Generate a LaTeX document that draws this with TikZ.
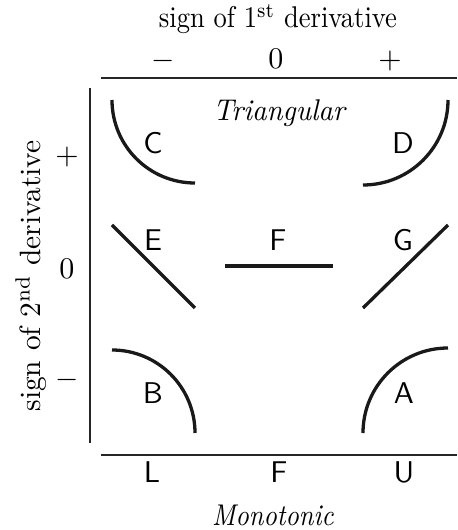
\documentclass[tikz,border=0pt]{standalone}
\usepackage{graphicx}
\begin{document}
\begin{tikzpicture}[x=0.3333pt,y=0.3333pt,
  curve/.style={line width=1.1pt, black!90},
  axisline/.style={line width=0.45pt, black!85},
  lab/.style={font=\sffamily, inner sep=0pt},
  sgn/.style={inner sep=0pt, anchor=base},
  ttl/.style={inner sep=0pt, anchor=base}]
\useasboundingbox (0,0) rectangle (457,530);
% titles
\node[ttl] (t1) at (278,502) {\scalebox{0.885}[1]{sign of 1\textsuperscript{st} derivative}};
\node[sgn] (sm) at (163,462) {$-$};
\node[sgn] (s0) at (276,462) {$0$};
\node[sgn] (sp) at (390,462) {$+$};
\node[inner sep=0pt, rotate=90, font=\fontsize{9.8}{11}\selectfont] (t2) at (31,254) {sign of 2\textsuperscript{nd} derivative};
\node[inner sep=0pt] (lp) at (67,373) {$+$};
\node[inner sep=0pt] (l0) at (67,261) {$0$};
\node[inner sep=0pt] (lm) at (67,150) {$-$};
% axes
\coordinate (tl) at (101,452); \coordinate (tr) at (457,452);
\coordinate (bl) at (101,75);  \coordinate (br) at (457,75);
\coordinate (vt) at (90,442);  \coordinate (vb) at (90,87);
\draw[axisline] (tl) -- (tr);
\draw[axisline] (bl) -- (br);
\draw[axisline] (vt) -- (vb);
% italic labels
\node[inner sep=0pt] (tri) at (280,417) {\scalebox{0.95}[1]{\textit{Triangular}}};
\node[ttl] (mono) at (273,5) {\scalebox{0.87}[1]{\textit{Monotonic}}};
% bottom labels
\node[ttl,font=\sffamily] (bL) at (152,47) {L};
\node[ttl,font=\sffamily] (bF) at (279,47) {F};
\node[ttl,font=\sffamily] (bU) at (404,47) {U};
% curves
\draw[curve] (112,430) arc[start angle=180, end angle=270, radius=83];
\draw[curve] (448,430) arc[start angle=0, end angle=-90, radius=85];
\draw[curve] (112,305) -- (195,222);
\draw[curve] (225,264) -- (333,264);
\draw[curve] (363,222) -- (448,305);
\draw[curve] (112,180) arc[start angle=90, end angle=0, radius=83];
\draw[curve] (363,97) arc[start angle=180, end angle=90, radius=85];
% curve labels
\node[lab] (C) at (153,387) {C};
\node[lab] (D) at (403,387) {D};
\node[lab] (E) at (153,290) {E};
\node[lab] (F) at (278,290) {F};
\node[lab] (G) at (403,290) {G};
\node[lab] (B) at (153,137) {B};
\node[lab] (A) at (404,137) {A};
\end{tikzpicture}
\end{document}
